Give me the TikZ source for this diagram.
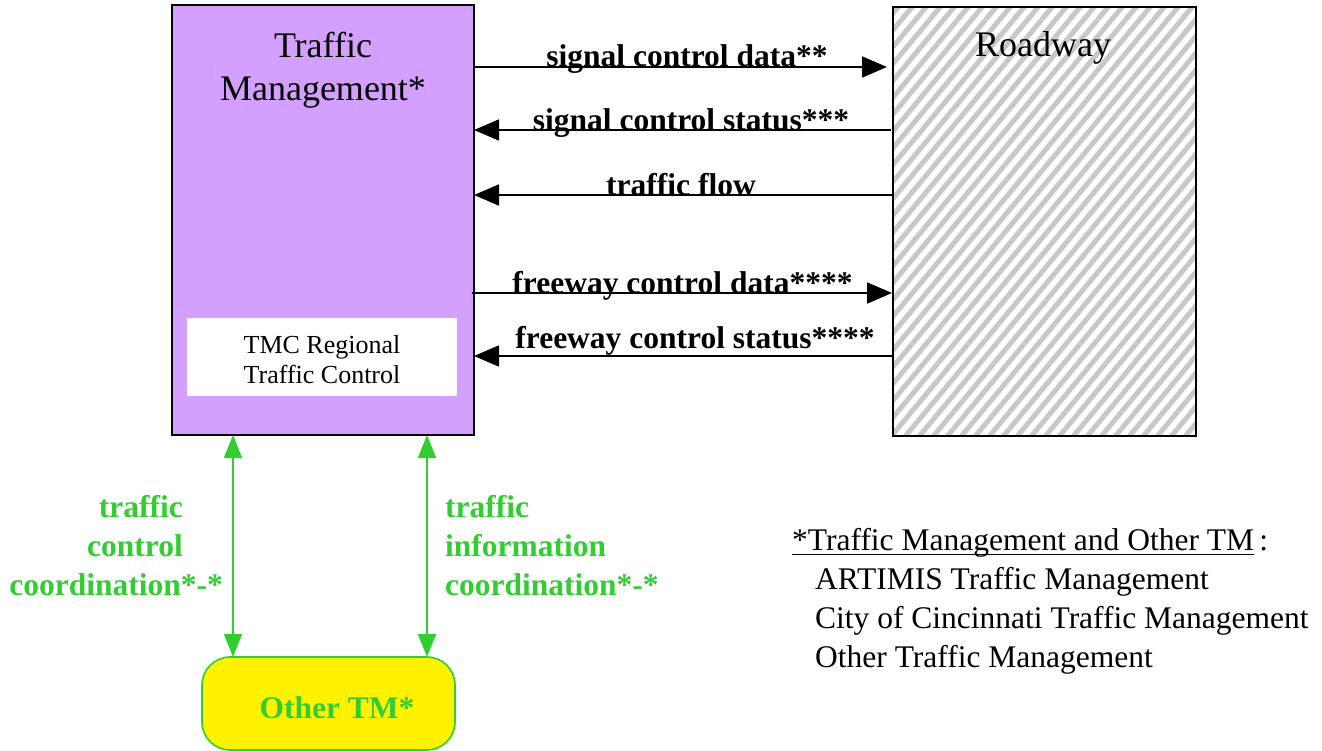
\documentclass[tikz,border=0pt]{standalone}
\usepackage{fontspec}
\setmainfont{Liberation Serif}
\usetikzlibrary{arrows.meta}
\definecolor{tmpurple}{RGB}{212,160,255}
\definecolor{lgreen}{RGB}{50,205,50}
\definecolor{hatchgray}{RGB}{200,200,200}
\newcommand\myul[1]{\setbox0\hbox{#1}\rlap{\rule[-4pt]{\wd0}{1.3pt}}\box0}
\begin{document}
\begin{tikzpicture}[x=1pt,y=-1pt,
  box/.style={draw, line width=1.6pt, inner sep=0pt, outer sep=0pt, anchor=north west},
  barrow/.style={draw, line width=1.8pt, -{Triangle[length=25pt,width=21pt]}},
  garrow/.style={draw=lgreen, line width=1.8pt, {Triangle[length=23pt,width=18pt]}-{Triangle[length=23pt,width=18pt]}},
  blab/.style={font=\fontsize{31.5}{38}\selectfont\bfseries, inner sep=0pt, anchor=base},
  glab/.style={font=\fontsize{31.5}{39}\selectfont\bfseries, text=lgreen, inner sep=0pt},
  bigtext/.style={font=\fontsize{36}{43}\selectfont, inner sep=0pt},
]
\useasboundingbox (0,0) rectangle (1322,751);

% main boxes
\node[box, fill=tmpurple, minimum width=302pt, minimum height=430pt] (tm) at (172,5) {};
\node[box, fill=white, minimum width=303pt, minimum height=429pt] (rw) at (893,7) {};
\begin{scope}
  \clip (rw.north west) rectangle (rw.south east);
  \foreach \k in {0,...,66} {\draw[hatchgray, line width=5pt] (520+14*\k, 445) -- ++(370,-445);}
\end{scope}
\draw[line width=1.6pt] (rw.north west) rectangle (rw.south east);
\node[fill=white, inner sep=0pt, outer sep=0pt, minimum width=270pt, minimum height=78pt, anchor=north west] (tmc) at (187,318) {};

% titles
\node[bigtext, align=center, anchor=north] (tmtitle) at (323,32.4) {Traffic\\Management*};
\node[bigtext, anchor=base] (rwtitle) at (1043,57) {Roadway};
\node[font=\fontsize{26}{30}\selectfont, inner sep=0pt, align=center, anchor=north] (tmctitle) at (322,335) {TMC Regional\\Traffic Control};

% row coordinates
\coordinate (r1) at (0,67);
\coordinate (r2) at (0,130);
\coordinate (r3) at (0,195);
\coordinate (r4) at (0,293);
\coordinate (r5) at (0,356);

\draw[barrow, shorten >=6pt] (tm.east |- r1) -- (rw.west |- r1);
\draw[barrow, shorten <=2pt] (rw.west |- r2) -- (tm.east |- r2);
\draw[barrow] (rw.west |- r3) -- (tm.east |- r3);
\draw[barrow, shorten <=-2pt, shorten >=1pt] (tm.east |- r4) -- (rw.west |- r4);
\draw[barrow] (rw.west |- r5) -- (tm.east |- r5);

\node[blab] (l1) at (687,67) {signal control data**};
\node[blab] (l2) at (691,131) {signal control status***};
\node[blab] (l3) at (681,196) {traffic flow};
\node[blab] (l4) at (682.5,294) {freeway control data****};
\node[blab] (l5) at (695,348) {freeway control status****};

% other TM
\node[box, draw=lgreen, fill=yellow, rounded corners=28pt, minimum width=253pt, minimum height=93pt] (otm) at (202,657) {};
\node[glab, anchor=base] (otmtext) at (337,718) {Other TM*};

\coordinate (g1) at (233,0);
\coordinate (g2) at (427,0);
\draw[garrow] (tm.south -| g1) -- (otm.north -| g1);
\draw[garrow] (tm.south -| g2) -- (otm.north -| g2);

\node[glab, align=right, anchor=north east] (gl1) at (223,495) {\mbox{traffic\kern40pt}\\\mbox{control\kern40pt}\\coordination*-*};
\node[glab, align=left, anchor=north west] (gl2) at (445,495) {traffic\\information\\coordination*-*};

% legend
\node[font=\fontsize{31.5}{39}\selectfont, inner sep=0pt, align=left, anchor=north west] (legend) at (792,528.5)
  {\myul{*Traffic Management and Other TM}\,:\\
   \hspace*{23pt}ARTIMIS Traffic Management\\
   \hspace*{23pt}City of Cincinnati Traffic Management\\
   \hspace*{23pt}Other Traffic Management};
\end{tikzpicture}
\end{document}
